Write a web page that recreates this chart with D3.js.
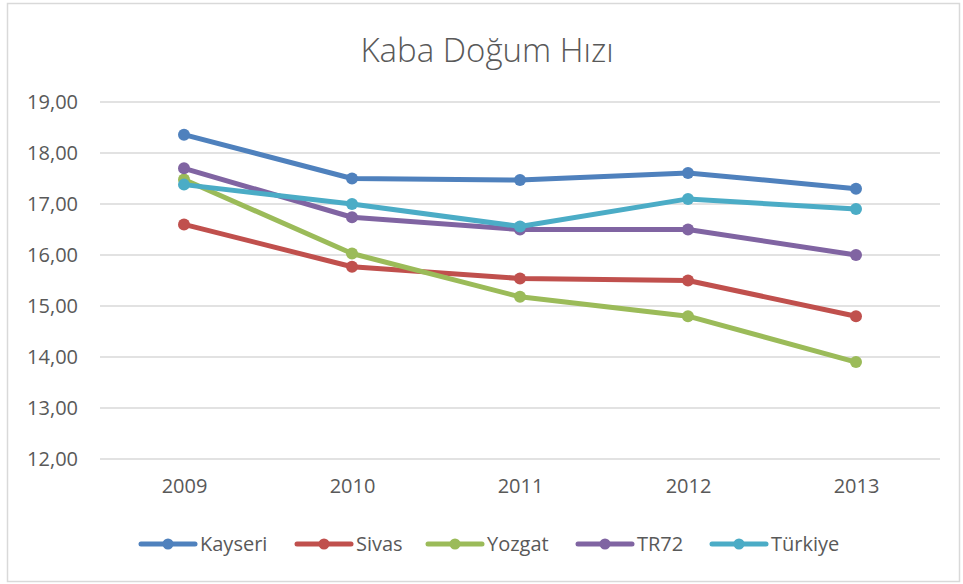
<!DOCTYPE html>
<html>
<head>
<meta charset="utf-8">
<script src="https://cdn.jsdelivr.net/npm/d3@7"></script>
<style>
  body { margin: 0; background: #fff; }
  text { font-family: "Open Sans", sans-serif; fill: #595959; }
</style>
</head>
<body>
<div id="chart-area"></div>
<script>
// data
var years = ["2009", "2010", "2011", "2012", "2013"];
var seriesNames = ["Kayseri", "Sivas", "Yozgat", "TR72", "Türkiye"];
var kayseri = [18.36, 17.50, 17.47, 17.61, 17.30];
var sivas = [16.60, 15.77, 15.54, 15.50, 14.80];
var yozgat = [17.48, 16.03, 15.18, 14.80, 13.90];
var tr72 = [17.70, 16.74, 16.50, 16.50, 16.00];
var turkiye = [17.38, 17.00, 16.56, 17.10, 16.90];
var yTicks = [12, 13, 14, 15, 16, 17, 18, 19];

var colors = ["#4F81BD", "#C0504D", "#9BBB59", "#8064A2", "#4BACC6"];
var allSeries = [kayseri, sivas, yozgat, tr72, turkiye];

var W = 963, H = 584;
var margin = { left: 100, right: 23, top: 102, bottom: 125 };
var width = W - margin.left - margin.right;
var height = H - margin.top - margin.bottom;

var svg = d3.select("#chart-area").append("svg")
    .attr("width", W)
    .attr("height", H);

// outer frame
svg.append("rect")
    .attr("x", 7.5).attr("y", 3.5)
    .attr("width", 952).attr("height", 578)
    .attr("fill", "#fff")
    .attr("stroke", "#d9d9d9")
    .attr("stroke-width", 1.5);

var g = svg.append("g")
    .attr("transform", `translate(${margin.left}, ${margin.top})`);

var x = d3.scalePoint()
    .domain(years)
    .range([0, width])
    .padding(0.5);

var y = d3.scaleLinear()
    .domain([12, 19])
    .range([height, 0]);

var trFormat = d3.formatLocale({ decimal: ",", thousands: ".", grouping: [3], currency: ["", " TL"] }).format(".2f");

// grid lines
g.append("g")
    .selectAll("line")
    .data(yTicks)
    .enter()
    .append("line")
    .attr("x1", 0)
    .attr("x2", width)
    .attr("y1", function (d) { return y(d); })
    .attr("y2", function (d) { return y(d); })
    .attr("stroke", "#d9d9d9")
    .attr("stroke-width", 1.5);

// y axis
var yAxisCall = d3.axisLeft(y)
    .tickValues(yTicks)
    .tickSize(0)
    .tickPadding(22)
    .tickFormat(trFormat);
var yAxis = g.append("g").call(yAxisCall);
yAxis.select(".domain").remove();
yAxis.selectAll("text")
    .attr("font-size", "20px")
    .attr("font-family", "Open Sans, sans-serif")
    .attr("fill", "#595959");

// x axis
var xAxisCall = d3.axisBottom(x).tickSize(0).tickPadding(20);
var xAxis = g.append("g")
    .attr("transform", `translate(0, ${height})`)
    .call(xAxisCall);
xAxis.select(".domain").remove();
xAxis.selectAll("text")
    .attr("font-size", "20px")
    .attr("font-family", "Open Sans, sans-serif")
    .attr("fill", "#595959");

// lines
var line = d3.line()
    .x(function (d, i) { return x(years[i]); })
    .y(function (d) { return y(d); });

allSeries.forEach(function (vals, k) {
    g.append("path")
        .datum(vals)
        .attr("d", line)
        .attr("fill", "none")
        .attr("stroke", colors[k])
        .attr("stroke-width", 5)
        .attr("stroke-linejoin", "round")
        .attr("stroke-linecap", "round");
    g.selectAll(".pt" + k)
        .data(vals)
        .enter()
        .append("circle")
        .attr("class", "pt" + k)
        .attr("cx", function (d, i) { return x(years[i]); })
        .attr("cy", function (d) { return y(d); })
        .attr("r", 6)
        .attr("fill", colors[k]);
});

// title
svg.append("text")
    .attr("x", 487)
    .attr("y", 62)
    .attr("text-anchor", "middle")
    .attr("font-size", "33px")
    .attr("font-weight", 300)
    .text("Kaba Doğum Hızı");

// legend
var legendX = [141, 297, 428, 578, 712];
var legend = svg.append("g");
seriesNames.forEach(function (name, k) {
    var lg = legend.append("g").attr("transform", `translate(${legendX[k]}, 544)`);
    lg.append("line")
        .attr("x1", 0).attr("x2", 54)
        .attr("y1", 0).attr("y2", 0)
        .attr("stroke", colors[k])
        .attr("stroke-width", 5)
        .attr("stroke-linecap", "round");
    lg.append("circle")
        .attr("cx", 27).attr("cy", 0)
        .attr("r", 5.5)
        .attr("fill", colors[k]);
    lg.append("text")
        .attr("x", 59)
        .attr("y", 7)
        .attr("font-size", "20px")
        .text(name);
});
</script>
</body>
</html>
